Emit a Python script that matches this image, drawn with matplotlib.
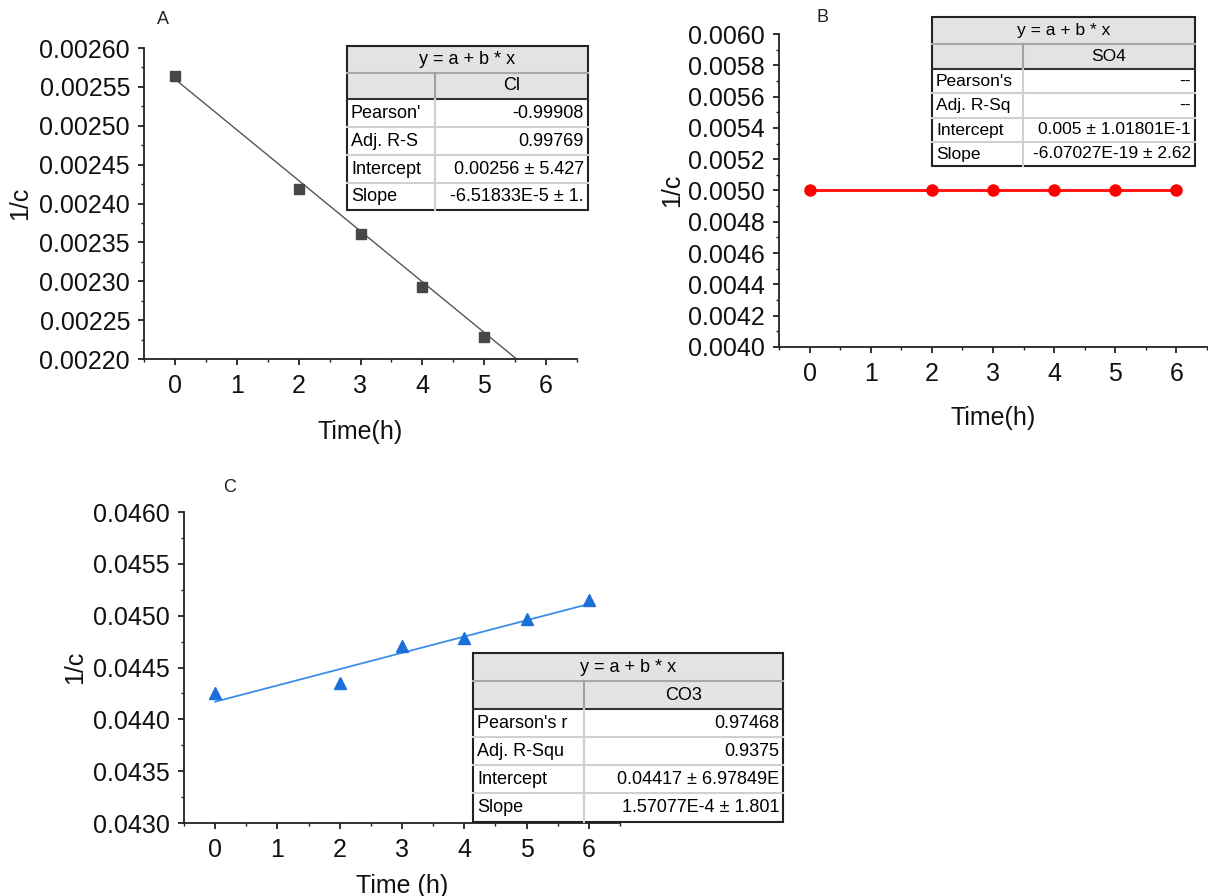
import numpy as np
import matplotlib.pyplot as plt
from matplotlib.patches import Rectangle
from matplotlib.ticker import MultipleLocator, FormatStrFormatter

plt.rcParams['font.family'] = ['Liberation Sans', 'DejaVu Sans']

W, H = 1208, 896

# panel A - Cl
time_cl = [0, 2, 3, 4, 5]
inv_c_cl = [0.002564, 0.002419, 0.002361, 0.002293, 0.002228]
intercept_cl, slope_cl = 0.00256, -6.51833e-5
labels_cl = ["Pearson'", "Adj. R-S", "Intercept", "Slope"]
values_cl = ["-0.99908", "0.99769", "0.00256 \u00b1 5.427", "-6.51833E-5 \u00b1 1."]

# panel B - SO4
time_so4 = [0, 2, 3, 4, 5, 6]
inv_c_so4 = [0.005, 0.005, 0.005, 0.005, 0.005, 0.005]
labels_so4 = ["Pearson's", "Adj. R-Sq", "Intercept", "Slope"]
values_so4 = ["--", "--", "0.005 \u00b1 1.01801E-1", "-6.07027E-19 \u00b1 2.62"]

# panel C - CO3
time_co3 = [0, 2, 3, 4, 5, 6]
inv_c_co3 = [0.04425, 0.04435, 0.04471, 0.04478, 0.04497, 0.04515]
intercept_co3, slope_co3 = 0.04417, 1.57077e-4
labels_co3 = ["Pearson's r", "Adj. R-Squ", "Intercept", "Slope"]
values_co3 = ["0.97468", "0.9375", "0.04417 \u00b1 6.97849E", "1.57077E-4 \u00b1 1.801"]


def px_axes(fig, left, right, top, bottom):
    return fig.add_axes([left / W, 1 - bottom / H, (right - left) / W, (bottom - top) / H])


def style_axes(ax, ylim, ymajor, yminor, yfmt, xlabel):
    ax.set_xlim(-0.5, 6.5)
    ax.set_ylim(*ylim)
    ax.xaxis.set_major_locator(MultipleLocator(1))
    ax.xaxis.set_minor_locator(MultipleLocator(0.5))
    ax.yaxis.set_major_locator(MultipleLocator(ymajor))
    ax.yaxis.set_minor_locator(MultipleLocator(yminor))
    ax.yaxis.set_major_formatter(FormatStrFormatter(yfmt))
    for s in ["top", "right"]:
        ax.spines[s].set_visible(False)
    for s in ["left", "bottom"]:
        ax.spines[s].set_linewidth(1.3)
        ax.spines[s].set_color("#222222")
    ax.tick_params(which="major", direction="out", length=4, width=1.2,
                   labelsize=18, colors="#111111")
    ax.tick_params(which="minor", direction="out", length=2.5, width=1,
                   colors="#222222")
    ax.tick_params(axis="x", which="major", pad=7)
    ax.tick_params(axis="y", which="major", pad=6)
    ax.set_xlabel(xlabel, fontsize=18, color="#111111")
    ax.set_ylabel("1/c", fontsize=18, color="#111111")


def draw_table(ov, x0, x1, xdiv, ys, colname, labels, values, fs=13):
    ov.add_patch(Rectangle((x0, ys[0]), x1 - x0, ys[2] - ys[0],
                           facecolor="#e3e3e3", edgecolor="none"))
    ov.add_patch(Rectangle((x0, ys[2]), x1 - x0, ys[-1] - ys[2],
                           facecolor="white", edgecolor="none"))
    ov.plot([x0, x1], [ys[1], ys[1]], color="#a8a8a8", lw=1.5)
    ov.plot([x0, x1], [ys[2], ys[2]], color="#333333", lw=1.5)
    for y in ys[3:-1]:
        ov.plot([x0, x1], [y, y], color="#d0d0d0", lw=1.5)
    ov.plot([xdiv, xdiv], [ys[1], ys[2]], color="#a0a0a0", lw=1.5)
    ov.plot([xdiv, xdiv], [ys[2], ys[-1]], color="#d0d0d0", lw=1.5)
    ov.add_patch(Rectangle((x0, ys[0]), x1 - x0, ys[-1] - ys[0],
                           facecolor="none", edgecolor="#222222", lw=1.5))
    ov.text((x0 + x1) / 2, (ys[0] + ys[1]) / 2, "y = a + b * x",
            ha="center", va="center", fontsize=fs)
    ov.text((xdiv + x1) / 2, (ys[1] + ys[2]) / 2, colname,
            ha="center", va="center", fontsize=fs)
    for i, (lab, val) in enumerate(zip(labels, values)):
        yc = (ys[i + 2] + ys[i + 3]) / 2
        ov.text(x0 + 4, yc, lab, ha="left", va="center", fontsize=fs)
        ov.text(x1 - 4, yc, val, ha="right", va="center", fontsize=fs)


fig = plt.figure(figsize=(W / 100, H / 100), dpi=100)

# A
axA = px_axes(fig, 144, 577, 48, 359)
xfit = np.array([0, 6])
axA.plot(xfit, intercept_cl + slope_cl * xfit, color="#555555", lw=1)
axA.plot(time_cl, inv_c_cl, "s", color="#474747", ms=7, zorder=3)
style_axes(axA, (0.00220, 0.00260), 0.00005, 0.000025, "%.5f", "Time(h)")
axA.yaxis.set_label_coords(-0.259, 0.5)
axA.xaxis.set_label_coords(0.5, -0.196)

# B
axB = px_axes(fig, 779, 1207, 34, 347)
axB.plot(time_so4, inv_c_so4, "-o", color="#ff1a1a", lw=2.2, ms=8,
         mfc="#ff0000", mec="#ff0000")
style_axes(axB, (0.0040, 0.0060), 0.0002, 0.0001, "%.4f", "Time(h)")
axB.yaxis.set_label_coords(-0.222, 0.5)
axB.xaxis.set_label_coords(0.5, -0.19)

# C
axC = px_axes(fig, 184, 620, 512, 823)
axC.plot(xfit, intercept_co3 + slope_co3 * xfit, color="#3a8ee6", lw=1.3)
axC.plot(time_co3, inv_c_co3, "^", color="#1a6fd8", ms=8, zorder=3)
style_axes(axC, (0.0430, 0.0460), 0.0005, 0.00025, "%.4f", "Time (h)")
axC.yaxis.set_label_coords(-0.222, 0.5)
axC.xaxis.set_label_coords(0.5, -0.165)

# overlay in pixel coordinates for tables and panel letters
ov = fig.add_axes([0, 0, 1, 1])
ov.set_xlim(0, W)
ov.set_ylim(H, 0)
ov.axis("off")
ov.patch.set_alpha(0)

draw_table(ov, 347, 588, 435, [46, 73, 99, 127, 155, 183, 210],
           "Cl", labels_cl, values_cl)
draw_table(ov, 932, 1195, 1023, [17, 44, 69, 93, 118, 142, 166],
           "SO4", labels_so4, values_so4, fs=12.5)
draw_table(ov, 473, 783, 584, [653, 681, 709, 737, 765, 793, 822],
           "CO3", labels_co3, values_co3)

ov.text(163, 20, "A", fontsize=13, ha="center", va="center", color="#222222")
ov.text(822, 18, "B", fontsize=13, ha="center", va="center", color="#222222")
ov.text(230, 487, "C", fontsize=13, ha="center", va="center", color="#222222")

fig.savefig("out.png", dpi=100)
